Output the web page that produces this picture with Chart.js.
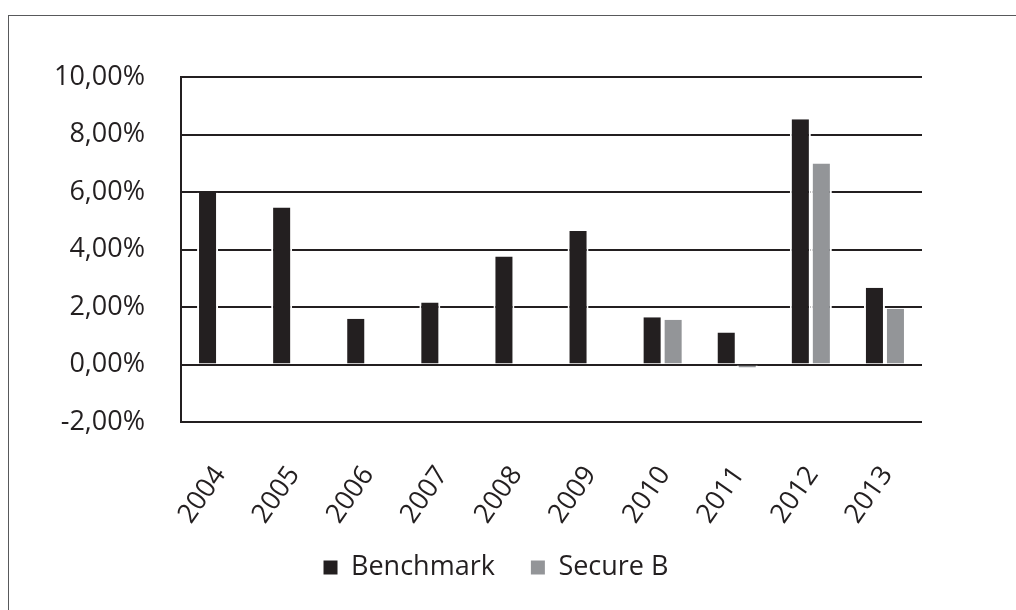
<!DOCTYPE html>
<html>
<head>
<meta charset="utf-8">
<script src="https://cdn.jsdelivr.net/npm/chart.js@4.4.1/dist/chart.umd.min.js"></script>
<style>
  html, body { margin: 0; padding: 0; background: #ffffff; }
  #wrap { position: relative; width: 1016px; height: 610px; overflow: hidden; }
  #frame { position: absolute; left: 8px; top: 15px; width: 1100px; height: 700px;
           border-left: 1.5px solid #58595b; border-top: 1.5px solid #58595b; }
  #c { position: absolute; left: 0; top: 0; }
</style>
</head>
<body>
<div id="wrap">
  <div id="frame"></div>
  <canvas id="c" width="1016" height="610"></canvas>
</div>
<script>
const categories = ['2004','2005','2006','2007','2008','2009','2010','2011','2012','2013'];
const benchmark  = [5.97, 5.46, 1.59, 2.16, 3.76, 4.64, 1.64, 1.11, 8.53, 2.67];
const secureB    = [null, null, null, null, null, null, 1.56, -0.10, 6.99, 1.94];
const seriesNames = ['Benchmark', 'Secure B'];
const yMin = -2, yMax = 10, yStep = 2;

const FONT = { family: '"Open Sans", "Noto Sans", sans-serif', size: 27 };
const INK = '#231f20';
const ROT = 55;
const LH = FONT.size * 1.2;

new Chart(document.getElementById('c'), {
  type: 'bar',
  data: {
    labels: categories,
    datasets: [
      { label: seriesNames[0], data: benchmark, backgroundColor: INK,
        borderColor: '#ffffff', borderWidth: { left: 2, right: 2, top: 0, bottom: 0 }, borderSkipped: false },
      { label: seriesNames[1], data: secureB, backgroundColor: '#939598',
        borderColor: '#ffffff', borderWidth: { left: 2, right: 2, top: 0, bottom: 0 }, borderSkipped: false }
    ]
  },
  options: {
    responsive: false,
    animation: false,
    devicePixelRatio: 1,
    categoryPercentage: 0.567,
    barPercentage: 1.0,
    layout: { padding: { left: 0, right: 24, top: 77, bottom: 19 } },
    plugins: {
      tooltip: { enabled: false },
      legend: {
        position: 'bottom',
        align: 'center',
        labels: {
          color: INK, font: FONT, boxWidth: 14, boxHeight: 14, padding: 36,
          generateLabels(chart) {
            return chart.data.datasets.map((ds, i) => ({
              text: ds.label, fillStyle: ds.backgroundColor, strokeStyle: ds.backgroundColor,
              lineWidth: 0, hidden: false, datasetIndex: i, fontColor: INK
            }));
          }
        }
      }
    },
    scales: {
      x: {
        offset: true,
        grid: { display: false, drawTicks: false },
        border: { display: false },
        ticks: {
          color: INK, font: FONT, minRotation: ROT, maxRotation: ROT, autoSkip: false,
          mirror: true,
          padding: -57,
          labelOffset: 2 + LH * Math.sin(ROT * Math.PI / 180)
        },
        afterFit(s) { s.height = 96; }
      },
      y: {
        min: yMin, max: yMax,
        grid: { color: INK, lineWidth: 2, drawTicks: false },
        border: { display: true, color: INK, width: 2 },
        ticks: {
          stepSize: yStep, color: INK, font: FONT, padding: 36,
          callback: v => v.toFixed(2).replace('.', ',') + '%'
        },
        afterFit(s) { s.width = 181; }
      },
      yR: {
        position: 'right',
        type: 'linear',
        display: true,
        grid: { display: false, drawTicks: false },
        border: { display: false },
        ticks: { display: false },
        afterFit(s) { s.width = 70; }
      }
    }
  }
});
</script>
</body>
</html>
